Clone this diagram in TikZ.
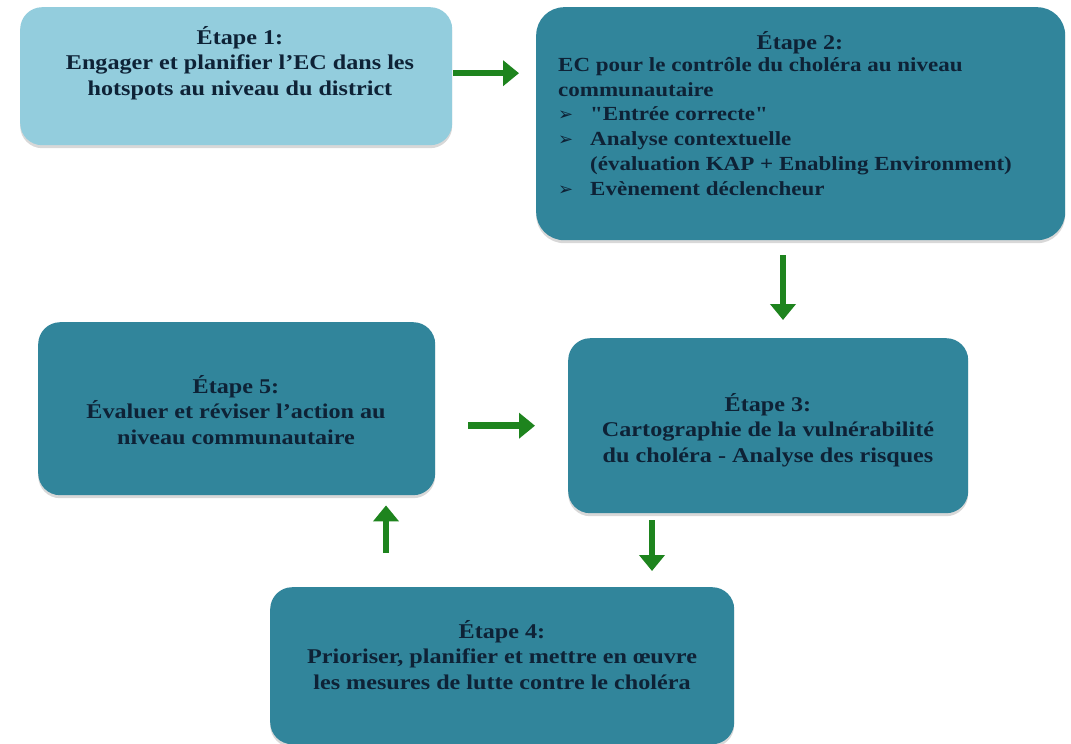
\documentclass[tikz,border=0pt]{standalone}
\usepackage{fontspec}
\setmainfont{Liberation Serif}[FakeStretch=1.15]
\newfontfamily\nomap{Liberation Serif}[FakeStretch=1.15,Ligatures=TeXOff]
\newfontfamily\dejavu{DejaVu Sans}
\usetikzlibrary{arrows.meta,shadows}
\definecolor{lightbox}{RGB}{147,205,221}
\definecolor{tealbox}{RGB}{49,133,155}
\definecolor{ink}{RGB}{14,34,54}
\definecolor{grn}{RGB}{30,132,30}
\newcommand\bul{\makebox[32pt][l]{\dejavu\bfseries\fontsize{18}{18}\selectfont ➢}}
\newcommand\dq{{\nomap\char"22}}
\begin{document}
\begin{tikzpicture}[x=1pt,y=-1pt,
  stepbox/.style={draw=none, inner sep=0pt, rounded corners=22pt, anchor=north west,
    drop shadow={opacity=0.3, shadow xshift=0pt, shadow yshift=-3pt}},
  txt/.style={text=ink, font=\bfseries\fontsize{21}{25.5}\selectfont, align=center, inner sep=0pt},
  arr/.style={draw=grn, line width=6.5pt, -{Triangle[width=25pt,length=16pt]}}
]
\useasboundingbox[fill=white] (0,0) rectangle (1071,744);
% boxes
\node[stepbox, fill=lightbox, minimum width=432pt, minimum height=138pt] (box1) at (20,7) {};
\node[stepbox, fill=tealbox, rounded corners=28pt, minimum width=529pt, minimum height=233pt] (box2) at (536,7) {};
\node[stepbox, fill=tealbox, minimum width=400pt, minimum height=175pt] (box3) at (568,338) {};
\node[stepbox, fill=tealbox, minimum width=464pt, minimum height=157pt] (box4) at (270,587) {};
\node[stepbox, fill=tealbox, minimum width=397pt, minimum height=173pt] (box5) at (38,322) {};
% texts
\node[txt] (t1) at (240,63) {Étape 1:\\Engager et planifier l’EC dans les\\hotspots au niveau du district};
\node[txt] (t2a) at (800,43) {Étape 2:};
\node[txt, font=\bfseries\fontsize{20}{24.8}\selectfont, align=left, anchor=north west] (t2b) at (558,57) {EC pour le contrôle du choléra au niveau\\
communautaire\\
\bul\dq Entrée correcte\dq\\
\bul Analyse contextuelle\\
\hspace*{32pt}(évaluation KAP + Enabling Environment)\\
\bul Evènement déclencheur};
\node[txt] (t3) at (768,430) {Étape 3:\\Cartographie de la vulnérabilité\\du choléra - Analyse des risques};
\node[txt] (t5) at (236,410) {Étape 5:\\Évaluer et réviser l’action au\\niveau communautaire};
\node[txt] (t4) at (502,655) {Étape 4:\\Prioriser, planifier et mettre en œuvre\\les mesures de lutte contre le choléra};
% arrows
\draw[arr, shorten <=1pt, shorten >=17pt] ([yshift=3pt]box1.east) -- ([yshift=3pt]box1.east -| box2.west);
\path ([xshift=247pt]box2.south west) coordinate (c2s);
\draw[arr, shorten <=15pt, shorten >=18pt] (c2s) -- (c2s |- box3.north);
\draw[arr, shorten <=33pt, shorten >=33pt] (box5.east |- box3.west) -- (box3.west);
\path ([xshift=84pt]box3.south west) coordinate (c3s);
\draw[arr, shorten <=7pt, shorten >=16pt] (c3s) -- (c3s |- box4.north);
\path ([xshift=116pt]box4.north west) coordinate (c4n);
\draw[arr, shorten <=34pt, shorten >=10pt] (c4n) -- (c4n |- box5.south);
\end{tikzpicture}
\end{document}
